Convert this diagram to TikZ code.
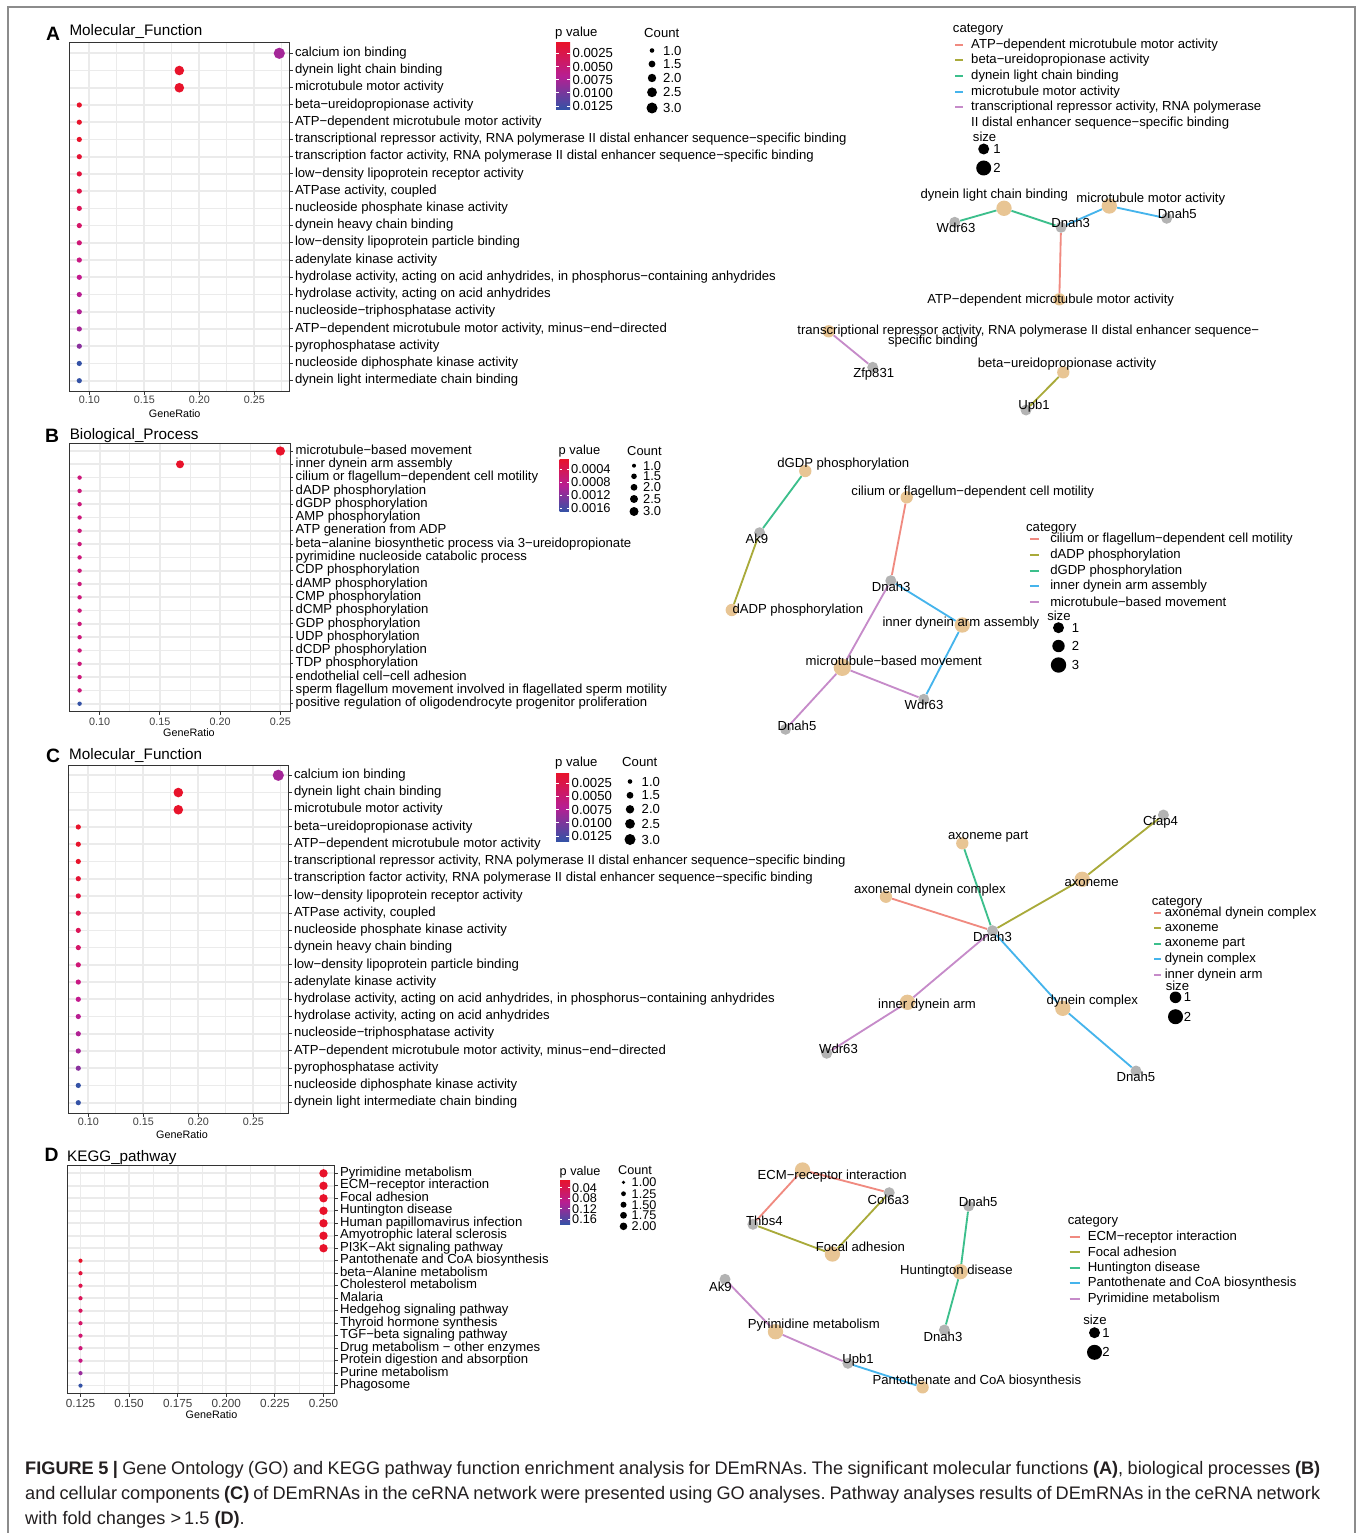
\documentclass[tikz,border=0pt]{standalone}
\usepackage{fontspec}
\setmainfont{Liberation Sans}
\usetikzlibrary{positioning}
\frenchspacing

\definecolor{pred}{HTML}{E8132B}
\definecolor{pcrim}{HTML}{DC1558}
\definecolor{pmag}{HTML}{C4198E}
\definecolor{ppur}{HTML}{992B9C}
\definecolor{pblue}{HTML}{3452A6}
\colorlet{bmag}{pcrim!35!pmag}
\definecolor{gridgray}{HTML}{EBEBEB}
\definecolor{cattan}{HTML}{E8C594}
\definecolor{genegray}{HTML}{B3B3B3}
\definecolor{eA}{HTML}{F08A80}
\definecolor{eB}{HTML}{A9AA3A}
\definecolor{eC}{HTML}{3CBF8C}
\definecolor{eD}{HTML}{45B4EC}
\definecolor{eE}{HTML}{C68BC9}
\definecolor{framegray}{HTML}{8C8C8C}
\definecolor{captext}{HTML}{231F20}

\tikzset{
  gridmaj/.style={gridgray, line width=0.5mm},
  gridmin/.style={gridgray, line width=0.28mm},
  panelbox/.style={draw=black!80, line width=0.3mm},
  axtick/.style={black!80, line width=0.3mm},
  ticklab/.style={inner sep=0pt, text=black!75, font=\fontsize{9.2}{10}\selectfont},
  ticklabd/.style={inner sep=0pt, text=black!75, font=\fontsize{10}{11}\selectfont},
  axtitle/.style={inner sep=0pt, font=\fontsize{9.2}{10}\selectfont},
  ptitle/.style={inner sep=0pt, anchor=base west, font=\fontsize{13}{14}\selectfont},
  pletter/.style={inner sep=0pt, anchor=base west, font=\fontsize{16.5}{18}\selectfont\bfseries},
  mflab/.style={inner sep=0pt, anchor=west, text height=8pt, text depth=2.6pt, font=\fontsize{11.2}{13}\selectfont},
  bplab/.style={mflab},
  kglab/.style={mflab},
  leg/.style={inner sep=0pt, anchor=west, font=\fontsize{11.2}{12}\selectfont},
  legs/.style={inner sep=0pt, anchor=west, font=\fontsize{11}{12}\selectfont},
  legd/.style={inner sep=0pt, anchor=west, font=\fontsize{10.8}{12}\selectfont},
  nlab/.style={inner sep=0pt, font=\fontsize{11.2}{12}\selectfont},
  nlabs/.style={nlab},
  gene/.style={circle, fill=genegray, inner sep=0pt, minimum size=3.3mm},
  cat/.style={circle, fill=cattan, inner sep=0pt, minimum size=3.7mm},
  cat2/.style={cat, minimum size=4.6mm},
  cat3/.style={cat, minimum size=5.2mm},
  link/.style={line width=0.55mm},
  captxt/.style={inner sep=0pt, anchor=base west, text=captext, font=\fontsize{15.5}{18}\selectfont}
}

% dot plot of the molecular functions (panels A and C)
\newcommand\mfplot[1]{%
  \foreach \x in {116.8,171.8,226.8,281.8} \draw[gridmin] (\x,43) -- (\x,391);
  \foreach \x in {89.3,144.3,199.3,254.3} \draw[gridmaj] (\x,43) -- (\x,391);
  \foreach \i in {0,...,19} \draw[gridmaj] (69.3,{53.3+17.23*\i}) -- (289.3,{53.3+17.23*\i});
  \foreach \x/\rr/\cl [count=\i from 0] in {279.3/5.6/pmag!25!ppur, 179.3/4.8/pred, 179.3/4.8/pred,
      79.3/2.6/pred, 79.3/2.6/pred, 79.3/2.6/pred, 79.3/2.6/pred!80!pcrim, 79.3/2.6/pred!55!pcrim,
      79.3/2.6/pred!30!pcrim, 79.3/2.6/pcrim, 79.3/2.6/pcrim!70!pmag, 79.3/2.6/pcrim!45!pmag,
      79.3/2.6/pcrim!20!pmag, 79.3/2.6/pmag, 79.3/2.6/pmag!75!ppur, 79.3/2.6/pmag!55!ppur,
      79.3/2.6/pmag!30!ppur, 79.3/2.6/ppur!85!pblue, 79.3/2.6/pblue, 79.3/2.6/pblue}
    \fill[\cl] (\x,{53.3+17.23*\i}) circle[radius=\rr];
  \draw[panelbox] (69.3,43) rectangle (289.3,391);
  \foreach \x/\tx [count=\i] in {89.3/0.10,144.3/0.15,199.3/0.20,254.3/0.25} {
    \draw[axtick] (\x,391) -- (\x,394.5);
    \node[ticklab] (#1-xt\i) at (\x,400) {\tx};
  }
  \foreach \tx [count=\i from 0] in {calcium ion binding, dynein light chain binding,
      microtubule motor activity, beta−ureidopropionase activity,
      ATP−dependent microtubule motor activity,
      {transcriptional repressor activity, RNA polymerase II distal enhancer sequence−specific binding},
      {transcription factor activity, RNA polymerase II distal enhancer sequence−specific binding},
      low−density lipoprotein receptor activity, {ATPase activity, coupled},
      nucleoside phosphate kinase activity, dynein heavy chain binding,
      low−density lipoprotein particle binding, adenylate kinase activity,
      {hydrolase activity, acting on acid anhydrides, in phosphorus−containing anhydrides},
      {hydrolase activity, acting on acid anhydrides}, nucleoside−triphosphatase activity,
      {ATP−dependent microtubule motor activity, minus−end−directed}, pyrophosphatase activity,
      nucleoside diphosphate kinase activity, dynein light intermediate chain binding} {
    \draw[axtick] (289.3,{53.3+17.23*\i}) -- (292.8,{53.3+17.23*\i});
    \node[mflab] (#1-yt\i) at (294.8,{53.3+17.23*\i}) {\tx};
  }
}

\begin{document}
\begin{tikzpicture}[x=0.3mm, y=-0.3mm]
  \useasboundingbox (0,0) rectangle (1360,1533);
  \fill[white] (0,0) rectangle (1360,1533);
  \draw[framegray, line width=0.45mm] (8,1545) -- (8,7) -- (1355,7) -- (1355,1545);

  % ---------- A ----------
  \node[pletter] (a-let) at (46,40.7) {A};
  \node[ptitle] (a-tit) at (69.3,35.7) {Molecular\_Function};
  \mfplot{a}
  \node[axtitle] (a-gr) at (174.7,413.3) {GeneRatio};

  \node[leg] (a-pv) at (555,33) {p value};
  \shade[top color=pred, bottom color=pblue, middle color=pmag!70!ppur] (556,42.7) rectangle (570,109.3);
  \foreach \tx [count=\i from 0] in {0.0025,0.0050,0.0075,0.0100,0.0125} {
    \draw[white, line width=0.3mm] (556,{53.3+13.2*\i}) -- ++(2.8,0) (567.2,{53.3+13.2*\i}) -- ++(2.8,0);
    \node[leg] (a-pt\i) at (572.5,{53.3+13.2*\i}) {\tx};
  }
  \node[leg] (a-cnt) at (644,32.7) {Count};
  \foreach \rr/\y/\tx [count=\i] in {2.3/50.5/1.0, 3.4/64/1.5, 4.2/78/2.0, 4.9/92.3/2.5, 5.5/108/3.0} {
    \fill (652,\y) circle[radius=\rr];
    \node[leg] (a-cn\i) at (663,\y) {\tx};
  }

  \node[cat2] (a-dlcb) at (1004,208.3) {};
  \node[gene] (a-wdr63) at (954.7,222.3) {};
  \node[gene] (a-dnah3) at (1061,227.3) {};
  \node[cat2] (a-mma) at (1109.3,206) {};
  \node[gene] (a-dnah5) at (1166.7,218.3) {};
  \node[cat] (a-atp) at (1059.3,299.3) {};
  \node[cat] (a-trans) at (828.7,331.3) {};
  \node[gene] (a-zfp) at (872.7,367.3) {};
  \node[cat] (a-beta) at (1063.3,372.3) {};
  \node[gene] (a-upb1) at (1026,410) {};
  \draw[link, eC] (a-wdr63) -- (a-dlcb) -- (a-dnah3);
  \draw[link, eD] (a-dnah3) -- (a-mma) -- (a-dnah5);
  \draw[link, eA] (a-dnah3) -- (a-atp);
  \draw[link, eE] (a-trans) -- (a-zfp);
  \draw[link, eB] (a-beta) -- (a-upb1);
  \node[nlab] (a-dlcb-l) at (994.3,195) {dynein light chain binding};
  \node[nlab] (a-wdr63-l) at (956,228.3) {Wdr63};
  \node[nlab] (a-dnah3-l) at (1070.7,223.3) {Dnah3};
  \node[nlab] (a-mma-l) at (1150.8,199) {microtubule motor activity};
  \node[nlab] (a-dnah5-l) at (1177.3,213.7) {Dnah5};
  \node[nlab] (a-atp-l) at (1050.7,300) {ATP−dependent microtubule motor activity};
  \node[nlab] (a-trans-l) at (1028.3,330.7) {transcriptional repressor activity, RNA polymerase II distal enhancer sequence−};
  \node[nlab] (a-trans-m) at (933,340.7) {specific binding};
  \node[nlab] (a-zfp-l) at (873.7,374) {Zfp831};
  \node[nlab] (a-beta-l) at (1067,364) {beta−ureidopropionase activity};
  \node[nlab] (a-upb1-l) at (1034,405.7) {Upb1};

  \node[leg] (a-cat) at (952.7,30) {category};
  \foreach \cl/\tx [count=\i from 0] in {eA/ATP−dependent microtubule motor activity,
      eB/beta−ureidopropionase activity, eC/dynein light chain binding,
      eD/microtubule motor activity, eE/{transcriptional repressor activity, RNA polymerase}} {
    \draw[link, \cl] (955,{44.7+15.65*\i}) -- (963,{44.7+15.65*\i});
    \node[leg] (a-cc\i) at (971,{44.7+15.65*\i}) {\tx};
  }
  \node[leg] (a-cc5) at (971,122.7) {II distal enhancer sequence−specific binding};
  \node[leg] (a-size) at (972.7,136.7) {size};
  \fill (983.7,149) circle[radius=5.5];
  \node[leg] (a-s1) at (993,148.5) {1};
  \fill (983.7,168) circle[radius=7.5];
  \node[leg] (a-s2) at (993,167.5) {2};

  % ---------- B ----------
  \node[pletter] (b-let) at (45,442.3) {B};
  \node[ptitle] (b-tit) at (69.6,439.7) {Biological\_Process};
  \foreach \x in {129.8,190,250.2} \draw[gridmin] (\x,443) -- (\x,711.7);
  \foreach \x in {99.7,159.9,220.1,280.3} \draw[gridmaj] (\x,443) -- (\x,711.7);
  \foreach \i in {0,...,19} \draw[gridmaj] (69.6,{451+13.3*\i}) -- (290.4,{451+13.3*\i});
  \fill[pred] (280.4,451) circle[radius=4.6];
  \fill[pred] (180,464.3) circle[radius=4];
  \foreach \i in {2,...,18} \fill[bmag] (79.6,{451+13.3*\i}) circle[radius=2.2];
  \fill[pblue] (79.6,703.7) circle[radius=2.2];
  \draw[panelbox] (69.6,443) rectangle (290.4,711.7);
  \foreach \x/\tx [count=\i] in {99.7/0.10,159.9/0.15,220.1/0.20,280.3/0.25} {
    \draw[axtick] (\x,711.7) -- (\x,715);
    \node[ticklab] (b-xt\i) at (\x,721.7) {\tx};
  }
  \foreach \tx [count=\i from 0] in {microtubule−based movement, inner dynein arm assembly,
      cilium or flagellum−dependent cell motility, dADP phosphorylation, dGDP phosphorylation,
      AMP phosphorylation, ATP generation from ADP,
      beta−alanine biosynthetic process via 3−ureidopropionate,
      pyrimidine nucleoside catabolic process, CDP phosphorylation, dAMP phosphorylation,
      CMP phosphorylation, dCMP phosphorylation, GDP phosphorylation, UDP phosphorylation,
      dCDP phosphorylation, TDP phosphorylation, endothelial cell−cell adhesion,
      sperm flagellum movement involved in flagellated sperm motility,
      positive regulation of oligodendrocyte progenitor proliferation} {
    \draw[axtick] (290.4,{451+13.3*\i}) -- (293.4,{451+13.3*\i});
    \node[bplab] (b-yt\i) at (295.5,{451+13.3*\i}) {\tx};
  }
  \node[axtitle] (b-gr) at (188.9,732.3) {GeneRatio};

  \node[legs] (b-pv) at (558.5,451) {p value};
  \shade[top color=pred, bottom color=pblue, middle color=pmag!70!ppur] (559.5,459) rectangle (568.8,511.7);
  \foreach \tx [count=\i from 0] in {0.0004,0.0008,0.0012,0.0016} {
    \draw[white, line width=0.3mm] (559.5,{469+13.1*\i}) -- ++(2,0) (566.8,{469+13.1*\i}) -- ++(2,0);
    \node[legs] (b-pt\i) at (571,{469+13.1*\i}) {\tx};
  }
  \node[legs] (b-cnt) at (627,451) {Count};
  \foreach \rr/\y/\tx [count=\i] in {2/465.7/1.0, 2.8/476.3/1.5, 3.4/487.3/2.0, 4/499/2.5, 4.5/511.5/3.0} {
    \fill (634,\y) circle[radius=\rr];
    \node[legs] (b-cn\i) at (643,\y) {\tx};
  }

  \node[cat] (b-dgdp) at (805.3,471) {};
  \node[cat] (b-cil) at (906.7,497.3) {};
  \node[gene] (b-ak9) at (759.6,532.7) {};
  \node[cat] (b-dadp) at (731.8,610) {};
  \node[gene] (b-dnah3) at (890.8,580.7) {};
  \node[cat2] (b-ida) at (962.3,625) {};
  \node[cat3] (b-mbm) at (842.3,667.3) {};
  \node[gene] (b-wdr63) at (923.8,699.3) {};
  \node[gene] (b-dnah5) at (785.5,729.3) {};
  \draw[link, eC] (b-dgdp) -- (b-ak9);
  \draw[link, eB] (b-ak9) -- (b-dadp);
  \draw[link, eA] (b-cil) -- (b-dnah3);
  \draw[link, eD] (b-dnah3) -- (b-ida) -- (b-wdr63);
  \draw[link, eE] (b-dnah3) -- (b-mbm) -- (b-wdr63);
  \draw[link, eE] (b-mbm) -- (b-dnah5);
  \node[nlab] (b-dgdp-l) at (843.3,464.3) {dGDP phosphorylation};
  \node[nlab] (b-cil-l) at (972.7,491.7) {cilium or flagellum−dependent cell motility};
  \node[nlab] (b-ak9-l) at (756.8,538.7) {Ak9};
  \node[nlab] (b-dadp-l) at (797.8,610) {dADP phosphorylation};
  \node[nlab] (b-dnah3-l) at (891.2,586.7) {Dnah3};
  \node[nlab] (b-ida-l) at (960.9,622.7) {inner dynein arm assembly};
  \node[nlab] (b-mbm-l) at (893.8,660.7) {microtubule−based movement};
  \node[nlab] (b-wdr63-l) at (924,705) {Wdr63};
  \node[nlab] (b-dnah5-l) at (797,726) {Dnah5};

  \node[leg] (b-cat) at (1025.9,528.3) {category};
  \foreach \cl/\tx [count=\i from 0] in {eA/cilium or flagellum−dependent cell motility,
      eB/dADP phosphorylation, eC/dGDP phosphorylation, eD/inner dynein arm assembly,
      eE/microtubule−based movement} {
    \draw[link, \cl] (1029.9,{539.3+15.68*\i}) -- (1038.6,{539.3+15.68*\i});
    \node[leg] (b-cc\i) at (1050,{539.3+15.68*\i}) {\tx};
  }
  \node[leg] (b-size) at (1047,615.7) {size};
  \foreach \rr/\y/\tx [count=\i] in {5.5/627.7/1, 6.2/646/2, 7.7/665/3} {
    \fill (1058.5,\y) circle[radius=\rr];
    \node[leg] (b-s\i) at (1071.5,\y) {\tx};
  }

  % ---------- C ----------
  \node[pletter] (c-let) at (46,762) {C};
  \node[ptitle] (c-tit) at (69,759) {Molecular\_Function};
  \begin{scope}[shift={(-1,722)}]
    \mfplot{c}
  \end{scope}
  \node[axtitle] (c-gr) at (182,1134.5) {GeneRatio};

  \node[leg] (c-pv) at (555,763) {p value};
  \shade[top color=pred, bottom color=pblue, middle color=pmag!70!ppur] (556,773) rectangle (569,841);
  \foreach \tx [count=\i from 0] in {0.0025,0.0050,0.0075,0.0100,0.0125} {
    \draw[white, line width=0.3mm] (556,{783+13.3*\i}) -- ++(2.6,0) (566.4,{783+13.3*\i}) -- ++(2.6,0);
    \node[leg] (c-pt\i) at (571.5,{783+13.3*\i}) {\tx};
  }
  \node[leg] (c-cnt) at (622,762) {Count};
  \foreach \rr/\y/\tx [count=\i] in {2.3/781.5/1.0, 3.4/795.3/1.5, 4.2/809.3/2.0, 4.9/823.8/2.5, 5.5/839.5/3.0} {
    \fill (630,\y) circle[radius=\rr];
    \node[leg] (c-cn\i) at (641.5,\y) {\tx};
  }

  \node[gene] (c-cfap4) at (1163.4,815) {};
  \node[cat] (c-axp) at (962.3,843.3) {};
  \node[cat2] (c-axo) at (1082.2,879.3) {};
  \node[cat] (c-adc) at (885.9,896.7) {};
  \node[gene] (c-dnah3) at (992.5,930.7) {};
  \node[cat2] (c-ida) at (907.4,1002.3) {};
  \node[cat2] (c-dc) at (1062.8,1008.3) {};
  \node[gene] (c-wdr63) at (826.7,1053.3) {};
  \node[gene] (c-dnah5) at (1136,1071) {};
  \draw[link, eA] (c-dnah3) -- (c-adc);
  \draw[link, eB] (c-dnah3) -- (c-axo) -- (c-cfap4);
  \draw[link, eC] (c-dnah3) -- (c-axp);
  \draw[link, eD] (c-dnah3) -- (c-dc) -- (c-dnah5);
  \draw[link, eE] (c-dnah3) -- (c-ida) -- (c-wdr63);
  \node[nlab] (c-cfap4-l) at (1160.5,821.7) {Cfap4};
  \node[nlab] (c-axp-l) at (988.2,836.7) {axoneme part};
  \node[nlab] (c-axo-l) at (1091.6,882.7) {axoneme};
  \node[nlab] (c-adc-l) at (929.9,890) {axonemal dynein complex};
  \node[nlab] (c-dnah3-l) at (992.5,936.7) {Dnah3};
  \node[nlab] (c-ida-l) at (927,1005.3) {inner dynein arm};
  \node[nlab] (c-dc-l) at (1092.3,1001.3) {dynein complex};
  \node[nlab] (c-wdr63-l) at (838.5,1048.7) {Wdr63};
  \node[nlab] (c-dnah5-l) at (1135.9,1076.7) {Dnah5};

  \node[leg] (c-cat) at (1151.5,902.3) {category};
  \foreach \cl/\tx [count=\i from 0] in {eA/axonemal dynein complex, eB/axoneme,
      eC/axoneme part, eD/dynein complex, eE/inner dynein arm} {
    \draw[link, \cl] (1154.4,{912.7+15.5*\i}) -- (1161.2,{912.7+15.5*\i});
    \node[leg] (c-cc\i) at (1164.5,{912.7+15.5*\i}) {\tx};
  }
  \node[leg] (c-size) at (1165.5,986) {size};
  \fill (1175.5,997.3) circle[radius=5.8];
  \node[leg] (c-s1) at (1183.5,997) {1};
  \fill (1175.5,1016.7) circle[radius=7.5];
  \node[leg] (c-s2) at (1183.5,1016.5) {2};

  % ---------- D ----------
  \node[pletter] (d-let) at (44.4,1161.7) {D};
  \node[ptitle] (d-tit) at (67,1161) {KEGG\_pathway};
  \foreach \x in {104.8,153.4,202,250.6,299.2} \draw[gridmin] (\x,1165.8) -- (\x,1393.2);
  \foreach \x in {80.5,129.1,177.7,226.3,274.9,323.5} \draw[gridmaj] (\x,1165.8) -- (\x,1393.2);
  \foreach \i in {0,...,17} \draw[gridmaj] (67.5,{1173.3+12.49*\i}) -- (334.5,{1173.3+12.49*\i});
  \foreach \i in {0,...,6} \fill[pred] (323.5,{1173.3+12.49*\i}) circle[radius=4.2];
  \foreach \cl [count=\i from 7] in {pred, pred!60!pcrim, pred!25!pcrim, pcrim, pcrim!85!pmag,
      pcrim!70!pmag, pcrim!55!pmag, pcrim!40!pmag, pcrim!20!pmag, ppur, pblue}
    \fill[\cl] (80.5,{1173.3+12.49*\i}) circle[radius=2.1];
  \draw[panelbox] (67.5,1165.8) rectangle (334.5,1393.2);
  \foreach \x/\tx [count=\i] in {80.5/0.125,129.1/0.150,177.7/0.175,226.3/0.200,274.9/0.225,323.5/0.250} {
    \draw[axtick] (\x,1393.2) -- (\x,1396.5);
    \node[ticklabd] (d-xt\i) at (\x,1403.3) {\tx};
  }
  \foreach \tx [count=\i from 0] in {Pyrimidine metabolism, ECM−receptor interaction,
      Focal adhesion, Huntington disease, Human papillomavirus infection,
      Amyotrophic lateral sclerosis, PI3K−Akt signaling pathway,
      Pantothenate and CoA biosynthesis, beta−Alanine metabolism, Cholesterol metabolism,
      Malaria, Hedgehog signaling pathway, Thyroid hormone synthesis,
      TGF−beta signaling pathway, Drug metabolism − other enzymes,
      Protein digestion and absorption, Purine metabolism, Phagosome} {
    \draw[axtick] (334.5,{1173.3+12.49*\i}) -- (337.5,{1173.3+12.49*\i});
    \node[kglab] (d-yt\i) at (339.8,{1173.3+12.49*\i}) {\tx};
  }
  \node[axtitle] (d-gr) at (211.5,1414.3) {GeneRatio};

  \node[legd] (d-pv) at (559.5,1172.7) {p value};
  \shade[top color=pred, bottom color=pblue, middle color=pmag!70!ppur] (560,1180) rectangle (570,1224.3);
  \foreach \tx [count=\i from 0] in {0.04,0.08,0.12,0.16} {
    \draw[white, line width=0.3mm] (560,{1187.7+10.55*\i}) -- ++(2,0) (568,{1187.7+10.55*\i}) -- ++(2,0);
    \node[legd] (d-pt\i) at (572,{1187.7+10.55*\i}) {\tx};
  }
  \node[legd] (d-cnt) at (618,1170) {Count};
  \foreach \rr/\y/\tx [count=\i] in {1.8/1182.3/1.00, 2.4/1193.7/1.25, 3/1204.7/1.50, 3.4/1215.3/1.75, 3.8/1226.3/2.00} {
    \fill (623.5,\y) circle[radius=\rr];
    \node[legd] (d-cn\i) at (631.5,\y) {\tx};
  }

  \node[cat2] (d-ecm) at (802.5,1170) {};
  \node[gene] (d-col6a3) at (889.2,1192.7) {};
  \node[gene] (d-thbs4) at (752.9,1224.3) {};
  \node[cat2] (d-focal) at (832.4,1254) {};
  \node[gene] (d-dnah5) at (968.7,1206) {};
  \node[cat2] (d-hunt) at (960.3,1271.7) {};
  \node[gene] (d-dnah3) at (944.4,1330) {};
  \node[gene] (d-ak9) at (725,1279.3) {};
  \node[cat2] (d-pyr) at (775.5,1331.7) {};
  \node[gene] (d-upb1) at (847.9,1363.3) {};
  \node[cat] (d-pant) at (922.6,1387.3) {};
  \draw[link, eA] (d-thbs4) -- (d-ecm) -- (d-col6a3);
  \draw[link, eB] (d-thbs4) -- (d-focal) -- (d-col6a3);
  \draw[link, eC] (d-dnah5) -- (d-hunt) -- (d-dnah3);
  \draw[link, eE] (d-ak9) -- (d-pyr) -- (d-upb1);
  \draw[link, eD] (d-upb1) -- (d-pant);
  \node[nlabs] (d-ecm-l) at (832.2,1176) {ECM−receptor interaction};
  \node[nlabs] (d-col6a3-l) at (888.4,1200) {Col6a3};
  \node[nlabs] (d-thbs4-l) at (764.4,1220.7) {Thbs4};
  \node[nlabs] (d-focal-l) at (860.4,1246.7) {Focal adhesion};
  \node[nlabs] (d-dnah5-l) at (978.2,1201.7) {Dnah5};
  \node[nlabs] (d-hunt-l) at (956.4,1270.7) {Huntington disease};
  \node[nlabs] (d-dnah3-l) at (943,1336.7) {Dnah3};
  \node[nlabs] (d-ak9-l) at (720.3,1286.7) {Ak9};
  \node[nlabs] (d-pyr-l) at (813.9,1325) {Pyrimidine metabolism};
  \node[nlabs] (d-upb1-l) at (858,1360) {Upb1};
  \node[nlabs] (d-pant-l) at (976.8,1380.7) {Pantothenate and CoA biosynthesis};

  \node[leg] (d-cat) at (1067.5,1221.7) {category};
  \foreach \cl/\tx [count=\i from 0] in {eA/ECM−receptor interaction, eB/Focal adhesion,
      eC/Huntington disease, eD/Pantothenate and CoA biosynthesis, eE/Pyrimidine metabolism} {
    \draw[link, \cl] (1069.6,{1236.7+15.5*\i}) -- (1079.6,{1236.7+15.5*\i});
    \node[leg] (d-cc\i) at (1087.5,{1236.7+15.5*\i}) {\tx};
  }
  \node[leg] (d-size) at (1083,1320) {size};
  \fill (1094.5,1332.7) circle[radius=5.5];
  \node[leg] (d-s1) at (1102,1332.5) {1};
  \fill (1094.5,1352.3) circle[radius=7.5];
  \node[leg] (d-s2) at (1102,1352) {2};

  % ---------- caption ----------
  \node[captxt] (cap1) at (25,1474) {\makebox[388.5mm][s]{\textbf{FIGURE 5 |} Gene Ontology (GO) and KEGG pathway function enrichment analysis for DEmRNAs. The significant molecular functions \textbf{(A)}, biological processes \textbf{(B)}}};
  \node[captxt] (cap2) at (25,1499) {\makebox[388.5mm][s]{and cellular components \textbf{(C)} of DEmRNAs in the ceRNA network were presented using GO analyses. Pathway analyses results of DEmRNAs in the ceRNA network}};
  \node[captxt] (cap3) at (25,1524) {with fold changes >\,1.5 \textbf{(D)}.};
\end{tikzpicture}
\end{document}
